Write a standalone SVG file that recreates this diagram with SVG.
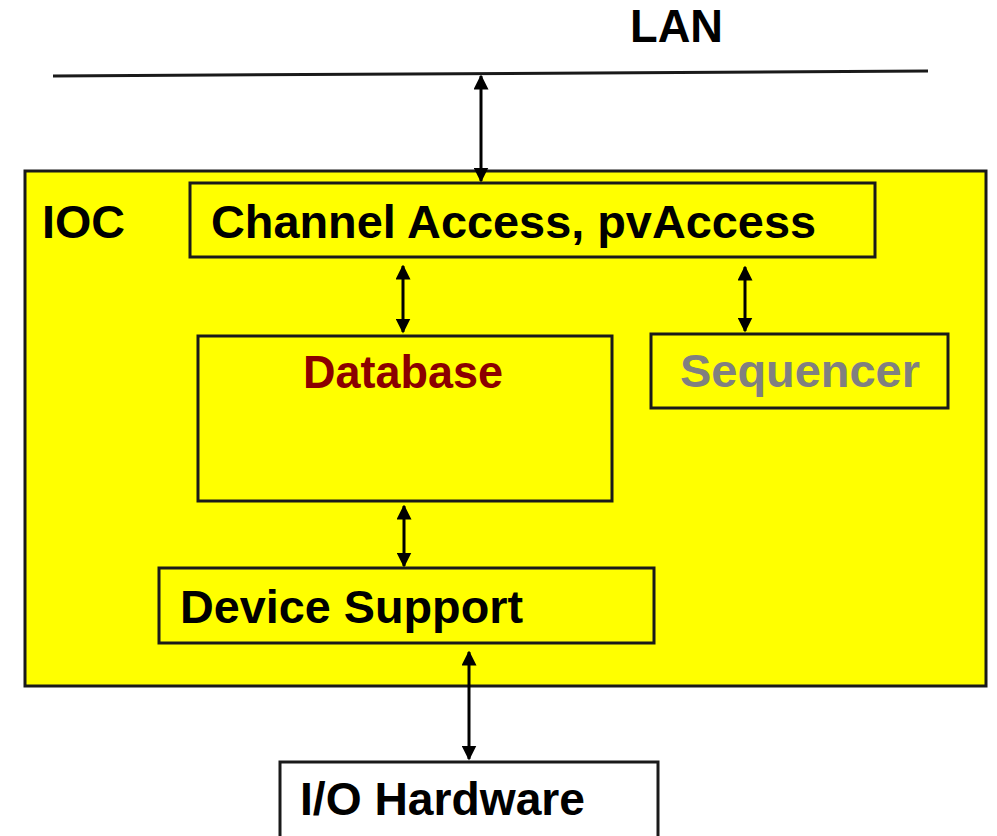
<svg xmlns="http://www.w3.org/2000/svg" width="997" height="836" viewBox="0 0 997 836">
  <style>
    .box { fill: #ffff00; stroke: #1a1a1a; stroke-width: 3; }
    .hw { fill: #ffffff; stroke: #1a1a1a; stroke-width: 3; }
    .lbl { font-family: "Liberation Sans", Arial, sans-serif; font-weight: bold; font-size: 46px; fill: #000000; }
    .link { stroke: #000000; stroke-width: 3; fill: none; marker-start: url(#tip); marker-end: url(#tip); }
  </style>
  <defs>
    <marker id="tip" viewBox="0 0 10 10" refX="9" refY="5" markerWidth="5" markerHeight="5" orient="auto-start-reverse" markerUnits="strokeWidth">
      <path d="M0,0 L10,5 L0,10 Z" fill="#000000"/>
    </marker>
  </defs>

  <rect width="997" height="836" fill="#ffffff"/>

  <!-- network bus -->
  <g id="lan">
    <line x1="53" y1="76" x2="928" y2="71" stroke="#1a1a1a" stroke-width="3"/>
    <text class="lbl" x="630" y="42" textLength="93" lengthAdjust="spacingAndGlyphs">LAN</text>
  </g>

  <!-- IOC container -->
  <g id="ioc">
    <rect class="box" x="25" y="171" width="961" height="515"/>
    <text class="lbl" x="42" y="238" textLength="83" lengthAdjust="spacingAndGlyphs">IOC</text>
  </g>

  <g id="channel-access">
    <rect class="box" x="190" y="183" width="685" height="74"/>
    <text class="lbl" x="211" y="238" textLength="605" lengthAdjust="spacingAndGlyphs">Channel Access, pvAccess</text>
  </g>

  <g id="database">
    <rect class="box" x="198" y="336" width="414" height="165"/>
    <text class="lbl" x="303" y="388" textLength="200" lengthAdjust="spacingAndGlyphs" fill="#8b0000" style="fill:#8b0000">Database</text>
  </g>

  <g id="sequencer">
    <rect class="box" x="651" y="334" width="297" height="74"/>
    <text class="lbl" x="680" y="387" textLength="240" lengthAdjust="spacingAndGlyphs" style="fill:#808080">Sequencer</text>
  </g>

  <g id="device-support">
    <rect class="box" x="159" y="568" width="495" height="75"/>
    <text class="lbl" x="180" y="623" textLength="343" lengthAdjust="spacingAndGlyphs">Device Support</text>
  </g>

  <g id="io-hardware">
    <rect class="hw" x="280" y="762" width="378" height="80"/>
    <text class="lbl" x="300" y="815" textLength="285" lengthAdjust="spacingAndGlyphs">I/O Hardware</text>
  </g>

  <!-- bidirectional links -->
  <g id="connectors">
    <line class="link" x1="481" y1="76" x2="481" y2="181"/>
    <line class="link" x1="403" y1="266" x2="403" y2="332"/>
    <line class="link" x1="745" y1="267" x2="745" y2="331"/>
    <line class="link" x1="404" y1="506" x2="404" y2="566"/>
    <line class="link" x1="469" y1="652" x2="469" y2="759"/>
  </g>
</svg>
